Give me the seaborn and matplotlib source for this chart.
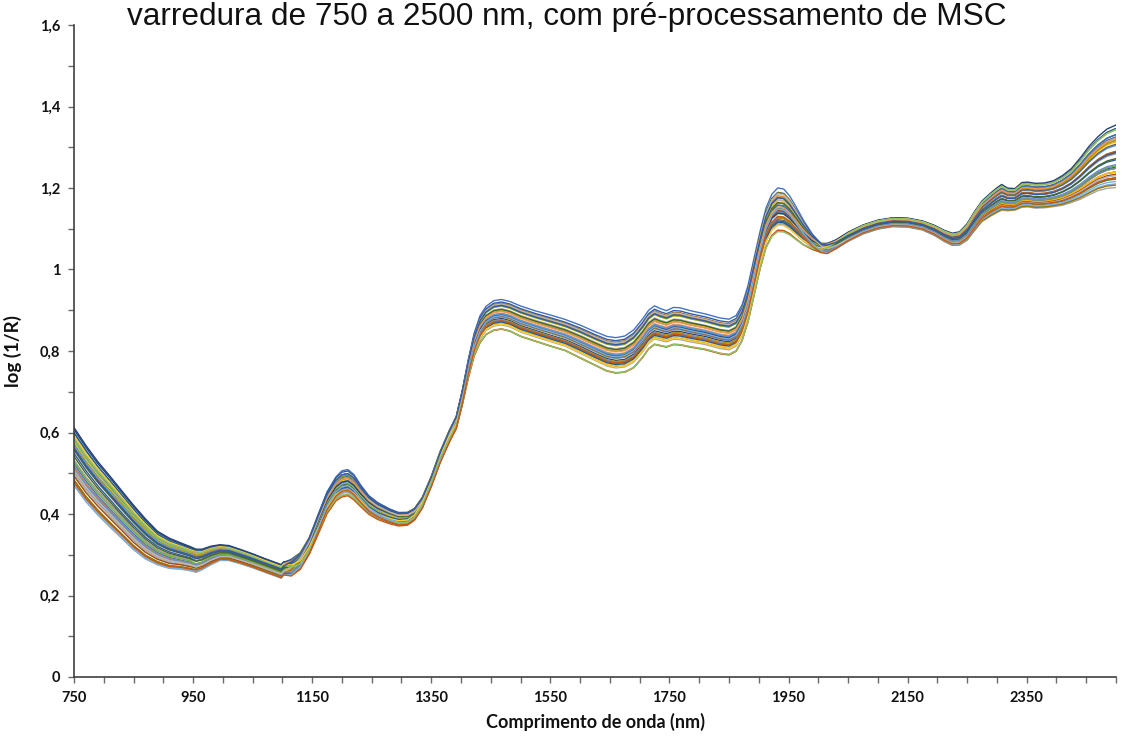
import numpy as np
import pandas as pd
import matplotlib
matplotlib.use("Agg")
import matplotlib.pyplot as plt
from matplotlib.ticker import MultipleLocator, FuncFormatter
import seaborn as sns

# Wavelength grid (nm)
wavelength = [
    750, 770, 790, 810, 830, 850, 870, 890, 910, 930,
    945, 955, 965, 980, 995, 1010, 1030, 1050, 1070, 1085,
    1098, 1102, 1115, 1130, 1145, 1160, 1175, 1190, 1200, 1210,
    1220, 1232, 1245, 1260, 1280, 1295, 1310, 1322, 1335, 1350,
    1365, 1380, 1392, 1402, 1412, 1422, 1432, 1442, 1455, 1468,
    1482, 1500, 1525, 1550, 1575, 1600, 1625, 1645, 1660, 1675,
    1690, 1705, 1715, 1725, 1735, 1745, 1757, 1768, 1785, 1810,
    1835, 1850, 1862, 1872, 1882, 1892, 1902, 1912, 1922, 1932,
    1942, 1952, 1962, 1975, 1990, 2005, 2015, 2030, 2050, 2075,
    2100, 2125, 2150, 2175, 2195, 2212, 2225, 2237, 2250, 2262,
    2275, 2290, 2300, 2308, 2318, 2330, 2342, 2352, 2365, 2380,
    2395, 2410, 2425, 2440, 2455, 2470, 2485, 2500,
]

# Mean MSC-corrected spectrum, log(1/R)
mean_spectrum = [
    0.540, 0.498, 0.462, 0.430, 0.398, 0.366, 0.338, 0.316, 0.303, 0.296,
    0.290, 0.285, 0.288, 0.298, 0.305, 0.304, 0.295, 0.285, 0.274, 0.266,
    0.259, 0.266, 0.269, 0.285, 0.322, 0.375, 0.428, 0.462, 0.474, 0.477,
    0.466, 0.444, 0.423, 0.408, 0.395, 0.388, 0.389, 0.400, 0.428, 0.480,
    0.540, 0.590, 0.625, 0.685, 0.755, 0.815, 0.853, 0.874, 0.886, 0.889,
    0.884, 0.872, 0.860, 0.849, 0.838, 0.822, 0.805, 0.792, 0.788, 0.791,
    0.804, 0.830, 0.851, 0.862, 0.857, 0.853, 0.860, 0.859, 0.853, 0.846,
    0.836, 0.833, 0.842, 0.868, 0.915, 0.980, 1.045, 1.100, 1.132, 1.146,
    1.144, 1.132, 1.114, 1.090, 1.068, 1.053, 1.052, 1.062, 1.080, 1.098,
    1.110, 1.116, 1.115, 1.108, 1.096, 1.082, 1.074, 1.076, 1.092, 1.118,
    1.143, 1.160, 1.170, 1.177, 1.172, 1.172, 1.183, 1.184, 1.181, 1.182,
    1.186, 1.194, 1.206, 1.223, 1.243, 1.260, 1.272, 1.278,
]

# Sample-to-sample variation: water-band loading
water_loading = [
    -0.039, -0.038, -0.037, -0.036, -0.034, -0.031, -0.028, -0.023, -0.021, -0.019,
    -0.017, -0.019, -0.016, -0.014, -0.012, -0.010, -0.010, -0.009, -0.008, -0.008,
    -0.008, -0.007, 0.002, 0.009, 0.013, 0.019, 0.023, 0.026, 0.029, 0.029,
    0.028, 0.023, 0.019, 0.017, 0.014, 0.012, 0.011, 0.009, 0.006, 0.003,
    0.004, 0.007, 0.010, 0.014, 0.020, 0.026, 0.032, 0.034, 0.036, 0.036,
    0.036, 0.037, 0.037, 0.038, 0.038, 0.040, 0.041, 0.042, 0.043, 0.044,
    0.046, 0.047, 0.047, 0.047, 0.045, 0.044, 0.045, 0.045, 0.044, 0.043,
    0.043, 0.043, 0.043, 0.043, 0.044, 0.045, 0.046, 0.049, 0.052, 0.054,
    0.053, 0.048, 0.041, 0.030, 0.017, 0.006, 0.000, -0.004, -0.007, -0.008,
    -0.008, -0.008, -0.008, -0.008, -0.009, -0.010, -0.011, -0.012, -0.015, -0.018,
    -0.020, -0.023, -0.024, -0.025, -0.022, -0.021, -0.024, -0.024, -0.024, -0.024,
    -0.025, -0.028, -0.032, -0.039, -0.046, -0.051, -0.056, -0.059,
]

# Sample-to-sample variation: baseline-tilt loading
tilt_loading = [
    0.066, 0.064, 0.060, 0.057, 0.053, 0.050, 0.045, 0.038, 0.034, 0.029,
    0.027, 0.024, 0.022, 0.020, 0.017, 0.017, 0.016, 0.016, 0.016, 0.016,
    0.016, 0.016, 0.021, 0.020, 0.018, 0.017, 0.015, 0.015, 0.015, 0.015,
    0.015, 0.014, 0.014, 0.013, 0.013, 0.013, 0.013, 0.013, 0.013, 0.013,
    0.014, 0.014, 0.013, 0.013, 0.012, 0.012, 0.012, 0.011, 0.011, 0.011,
    0.011, 0.011, 0.011, 0.011, 0.011, 0.012, 0.012, 0.013, 0.013, 0.013,
    0.014, 0.014, 0.014, 0.014, 0.014, 0.014, 0.014, 0.014, 0.014, 0.014,
    0.014, 0.014, 0.014, 0.014, 0.014, 0.014, 0.012, 0.012, 0.011, 0.010,
    0.010, 0.009, 0.009, 0.009, 0.009, 0.011, 0.013, 0.011, 0.010, 0.009,
    0.009, 0.009, 0.009, 0.009, 0.010, 0.011, 0.012, 0.013, 0.016, 0.018,
    0.019, 0.021, 0.023, 0.024, 0.021, 0.020, 0.023, 0.023, 0.023, 0.023,
    0.024, 0.028, 0.032, 0.039, 0.046, 0.051, 0.056, 0.059,
]

# Per-sample scores on each loading
water_score = [
    0.95, -0.90, 0.60, 0.30, -0.20, 0.10, -0.50, 0.80, -0.70, 0.45, -0.35,
    0.15, 0.00, -0.10, 0.50, -0.60, 0.25, -0.25, 0.70, -0.80, 0.35, -0.40,
    0.05, 0.20, -0.15, 0.65, -0.55, 0.40, -0.05, 0.55, -0.30, 0.10, -0.45,
    0.85, -0.65, 0.30, -0.20, 0.00, 0.75, -0.75, 0.20, -1.00, 0.45, -0.10,
]
tilt_score = [
    0.30, -0.20, -0.70, 0.90, 0.50, -0.40, 0.80, -0.10, 0.20, 0.60, -0.80,
    0.35, -0.50, 0.70, -0.30, 0.10, -0.90, 0.45, 0.55, -0.60, -0.15, 0.25,
    0.95, -0.75, 0.65, 0.00, -0.45, -0.25, 0.40, 0.15, 0.85, -0.65, 0.05,
    -0.35, 0.50, 0.20, -0.55, 0.75, -0.05, 0.35, -0.85, 0.10, 0.60, -1.00,
]

series_colors = [
    "#4472C4", "#ED7D31", "#A5A5A5", "#FFC000", "#5B9BD5", "#70AD47",
    "#264478", "#9E480E", "#636363", "#997300", "#255E91", "#43682B",
    "#698ED0", "#F1975A", "#B7B7B7", "#FFCD33", "#7CAFDD", "#8CC168",
    "#335AA1", "#C55A11", "#848484", "#BF9000", "#2E75B6", "#548235",
]

for arr in (mean_spectrum, water_loading, tilt_loading):
    assert len(arr) == len(wavelength)

wl = np.array(wavelength, dtype=float)
mean = np.array(mean_spectrum)
p_water = np.array(water_loading)
p_tilt = np.array(tilt_loading)

frames = []
for i, (sw, st) in enumerate(zip(water_score, tilt_score)):
    frames.append(pd.DataFrame({
        "wavelength": wl,
        "absorbance": mean + sw * p_water + st * p_tilt,
        "amostra": f"A{i + 1:02d}",
    }))
spectra = pd.concat(frames, ignore_index=True)
n_samples = len(water_score)
palette = [series_colors[i % len(series_colors)] for i in range(n_samples)]

sns.set_theme(style="white")
plt.rcParams["font.family"] = ["Lato", "DejaVu Sans"]

fig = plt.figure(figsize=(11.29, 7.37), dpi=100)
ax = fig.add_axes([74 / 1129, 1 - 677 / 737, (1116 - 74) / 1129, (677 - 25) / 737])

sns.lineplot(
    data=spectra, x="wavelength", y="absorbance", hue="amostra",
    palette=palette, estimator=None, sort=False, legend=False,
    linewidth=1.0, ax=ax,
)

ax.set_xlim(750, 2500)
ax.set_ylim(0, 1.6)
ax.xaxis.set_major_locator(MultipleLocator(200, offset=150))
ax.xaxis.set_minor_locator(MultipleLocator(50))
ax.yaxis.set_major_locator(MultipleLocator(0.2))
ax.yaxis.set_minor_locator(MultipleLocator(0.1))


def comma_decimal(v, _pos):
    if abs(v) < 1e-9:
        return "0"
    return f"{v:.1f}".rstrip("0").rstrip(".").replace(".", ",")


ax.yaxis.set_major_formatter(FuncFormatter(comma_decimal))
ax.xaxis.set_major_formatter(FuncFormatter(lambda v, _: f"{v:.0f}"))

for side in ("top", "right"):
    ax.spines[side].set_visible(False)
for side in ("left", "bottom"):
    ax.spines[side].set_color("#404040")
    ax.spines[side].set_linewidth(1.2)

ax.tick_params(which="both", direction="out", length=4, width=1.0, color="#6a6a6a",
               left=True, bottom=True)
ax.tick_params(which="major", labelsize=10.5, pad=6, labelcolor="#111111")
for lab in ax.get_xticklabels() + ax.get_yticklabels():
    lab.set_fontweight("bold")

ax.set_xlabel("Comprimento de onda (nm)", fontsize=13, fontweight="bold", color="#111111")
ax.set_ylabel("log (1/R)", fontsize=13.5, fontweight="bold", color="#111111")
ax.xaxis.set_label_coords(0.50, -0.055)
ax.yaxis.set_label_coords(-0.050, 0.50)
ax.grid(False)

fig.text(0.502, 1 - 25 / 737, "varredura de 750 a 2500 nm, com pré-processamento de MSC",
         ha="center", va="baseline", fontsize=22.7, color="#111111",
         family=["Liberation Sans", "DejaVu Sans"])

fig.savefig("out.png", dpi=100, facecolor="white")
